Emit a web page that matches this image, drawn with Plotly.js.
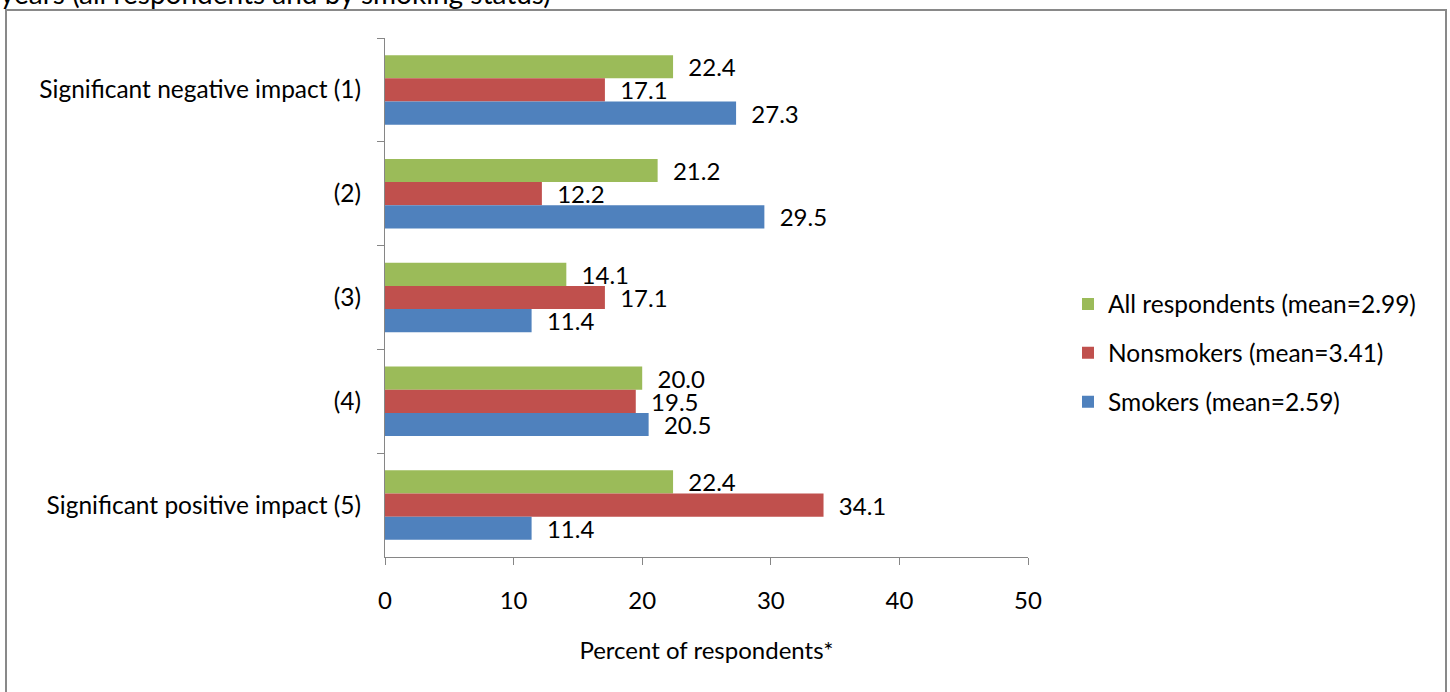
<!DOCTYPE html>
<html>
<head>
<meta charset="utf-8">
<script src="https://cdn.plot.ly/plotly-3.0.1.min.js"></script>
<style>
  html, body { margin: 0; padding: 0; background: #fff; }
  #chart { width: 1450px; height: 692px; }
</style>
</head>
<body>
<div id="chart"></div>
<script>
const categories = [
  "Significant negative impact (1)",
  "(2)",
  "(3)",
  "(4)",
  "Significant positive impact (5)"
];
const seriesNames = [
  "All respondents (mean=2.99)",
  "Nonsmokers (mean=3.41)",
  "Smokers (mean=2.59)"
];
const allRespondents = [22.4, 21.2, 14.1, 20.0, 22.4];
const nonsmokers = [17.1, 12.2, 17.1, 19.5, 34.1];
const smokers = [27.3, 29.5, 11.4, 20.5, 11.4];
const xTickValues = [0, 10, 20, 30, 40, 50];
const colors = ["#9BBB59", "#C0504D", "#4F81BD"];

const FONT = "Lato, 'Open Sans', sans-serif";
const seriesValues = [allRespondents, nonsmokers, smokers];

const traces = seriesValues.map((vals, i) => ({
  type: "bar",
  orientation: "h",
  name: seriesNames[i],
  legendgroup: "g" + i,
  y: categories,
  x: vals,
  marker: { color: colors[i], line: { width: 0 } },
  text: vals.map(v => v.toFixed(1)),
  texttemplate: "\u00a0\u00a0%{text}",
  textposition: "outside",
  constraintext: "none",
  cliponaxis: false,
  textfont: { family: FONT, size: 24, color: "#000" },
  hoverinfo: "none"
}));

const W = 1450, H = 692;
const L = 385, R = 1028, T = 38, B = 557;
const px = x => (x - L) / (R - L);
const py = y => (B - y) / (B - T);

const layout = {
  width: W,
  height: H,
  margin: { l: L, r: W - R, t: T, b: H - B, pad: 0 },
  paper_bgcolor: "#fff",
  plot_bgcolor: "#fff",
  font: { family: FONT, size: 24, color: "#000" },
  barmode: "group",
  bargap: 0.33,
  bargroupgap: 0,
  showlegend: true,
  legend: {
    x: px(1068), y: py(353), xanchor: "left", yanchor: "middle",
    font: { family: FONT, size: 24.5, color: "#000" },
    traceorder: "grouped",
    tracegroupgap: 14,
    bgcolor: "rgba(0,0,0,0)"
  },
  xaxis: {
    range: [0, 50],
    tickvals: xTickValues,
    ticktext: xTickValues.map(String),
    showgrid: false,
    zeroline: false,
    showline: true,
    linecolor: "#868686",
    linewidth: 1,
    ticks: "outside",
    ticklen: 7,
    tickcolor: "#868686",
    tickfont: { family: FONT, size: 24, color: "#000" },
    ticklabelstandoff: 15,
    title: { text: "Percent of respondents*", font: { family: FONT, size: 24, color: "#000" }, standoff: 29 },
    fixedrange: true
  },
  yaxis: {
    type: "category",
    autorange: "reversed",
    showgrid: false,
    zeroline: false,
    showline: true,
    linecolor: "#868686",
    linewidth: 1,
    ticks: "outside",
    tickson: "boundaries",
    ticklen: 7,
    tickcolor: "#868686",
    tickfont: { family: FONT, size: 24.5, color: "#000" },
    ticklabelstandoff: 18,
    fixedrange: true
  },
  shapes: [{
    type: "rect", xref: "paper", yref: "paper",
    x0: px(6), x1: px(1446), y0: py(10), y1: py(720),
    line: { color: "#898989", width: 2 },
    fillcolor: "rgba(0,0,0,0)"
  }],
  annotations: [{
    xref: "paper", yref: "paper",
    x: px(-2), y: py(12),
    xanchor: "left", yanchor: "bottom",
    text: "years (all respondents and by smoking status)",
    showarrow: false,
    font: { family: FONT, size: 28, color: "#000" }
  }]
};

Plotly.newPlot("chart", traces, layout, { displayModeBar: false, staticPlot: true });
</script>
</body>
</html>
